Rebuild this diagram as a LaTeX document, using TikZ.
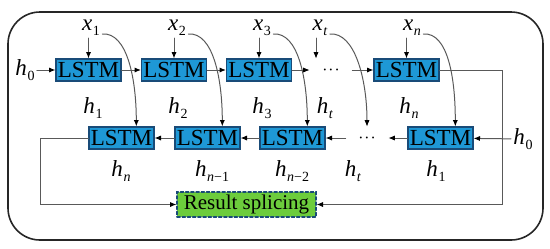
\documentclass[tikz,border=0pt]{standalone}
\usepackage{fontspec}
\setmainfont{Liberation Serif}
\usetikzlibrary{arrows.meta}
\definecolor{lstmblue}{RGB}{30,152,214}
\definecolor{lstmedge}{RGB}{25,75,120}
\definecolor{splicegreen}{RGB}{108,204,60}
\def\endshift{7.4pt}
\newcommand{\sv}[2]{\textit{#1}\kern0.3pt\raisebox{-0.45ex}{\fontsize{7}{8}\selectfont #2}}

\begin{document}
\begin{tikzpicture}[x=0.5pt,y=-0.5pt,line cap=round,
  cell/.style={draw=lstmedge,fill=lstmblue,line width=0.6pt,minimum width=32.5pt,minimum height=11pt,inner sep=0pt,font=\rmfamily\fontsize{11.5}{12}\selectfont},
  gap/.style={minimum width=21pt,minimum height=11pt,inner sep=0pt,font=\fontsize{9}{10}\selectfont},
  lbl/.style={inner sep=1pt,font=\fontsize{11.5}{12}\selectfont},
  splice/.style={draw=lstmedge,dash pattern=on 1.6pt off 1pt,fill=splicegreen,line width=0.6pt,minimum width=69.5pt,minimum height=12.5pt,inner sep=0pt,font=\fontsize{10.5}{12}\selectfont},
  link/.style={draw=black!65,line width=0.5pt,-{Latex[black,length=3.2pt,width=2.6pt]}}]
  \useasboundingbox (0,0) rectangle (550,248);
  \draw[black!85,line width=0.8pt,rounded corners=16pt] (8,12) rectangle (543,240);
  % forward chain
  \node[cell] (a1) at (88.5,70) {LSTM};
  \node[cell] (a2) at (174,70) {LSTM};
  \node[cell] (a3) at (259,70) {LSTM};
  \node[gap] (at) at (331,70) {$\cdot\!\cdot\!\cdot$};
  \node[cell] (an) at (406.5,70) {LSTM};
  % backward chain
  \node[cell] (b1) at (121.5,138) {LSTM};
  \node[cell] (b2) at (207.5,138) {LSTM};
  \node[cell] (b3) at (292.5,138) {LSTM};
  \node[gap] (bt) at (367,138) {$\cdot\!\cdot\!\cdot$};
  \node[cell] (bn) at (440.5,138) {LSTM};
  \node[splice] (rs) at (246.5,204.5) {Result splicing};
  % inputs
  \node[lbl] (x1) at (91,28) {\sv{x}{1}};
  \node[lbl] (x2) at (177,28) {\sv{x}{2}};
  \node[lbl] (x3) at (262,28) {\sv{x}{3}};
  \node[lbl] (xt) at (320,28) {\sv{x}{\textit{t}}};
  \node[lbl] (xn) at (412,28) {\sv{x}{\textit{n}}};
  \node[lbl] (h0a) at (25,70) {\sv{h}{0}};
  \node[lbl] (h0b) at (523,139) {\sv{h}{0}};
  % hidden states
  \node[lbl] at (93,108) {\sv{h}{1}};
  \node[lbl] at (178,108) {\sv{h}{2}};
  \node[lbl] at (262,108) {\sv{h}{3}};
  \node[lbl] at (325,108) {\sv{h}{\textit{t}}};
  \node[lbl] at (409,108) {\sv{h}{\textit{n}}};
  \node[lbl] at (121,171) {\sv{h}{\textit{n}}};
  \node[lbl] at (212,171) {\sv{h}{\textit{n}−1}};
  \node[lbl] at (292,171) {\sv{h}{\textit{n}−2}};
  \node[lbl] at (353,171) {\sv{h}{\textit{t}}};
  \node[lbl] at (436,171) {\sv{h}{1}};
  % chain arrows
  \draw[link] (h0a) -- (a1);
  \draw[link] (a1) -- (a2);
  \draw[link] (a2) -- (a3);
  \draw[link] (a3) -- (at);
  \draw[link] (at) -- (an);
  \draw[link] (h0b) -- (bn);
  \draw[link] (bn) -- (bt);
  \draw[link] (bt) -- (b3);
  \draw[link] (b3) -- (b2);
  \draw[link] (b2) -- (b1);
  % input arrows
  \foreach \x/\c in {x1/a1, x2/a2, x3/a3, xn/an} {
    \draw[link] (\x.south -| \c.north) -- (\c.north);
  }
  \draw[link] ([xshift=-2pt]xt.south) -- ([xshift=-2pt]xt.south |- at.north);
  \foreach \x/\c in {x1/b1, x2/b2, x3/b3, xn/bn} {
    \draw[link] ([yshift=-3pt]\x.east) .. controls +(25,-2) and +(0,-47) .. ([xshift=\endshift]\c.north);
  }
  \draw[link] ([yshift=-3pt]xt.east) .. controls +(25,-2) and +(0,-47) .. (bt.north);
  % to splicing
  \draw[link] (b1.west) -- ++(-48,0) |- (rs.west);
  \draw[link] (an.east) -- ++(63,0) |- (rs.east);
\end{tikzpicture}
\end{document}
